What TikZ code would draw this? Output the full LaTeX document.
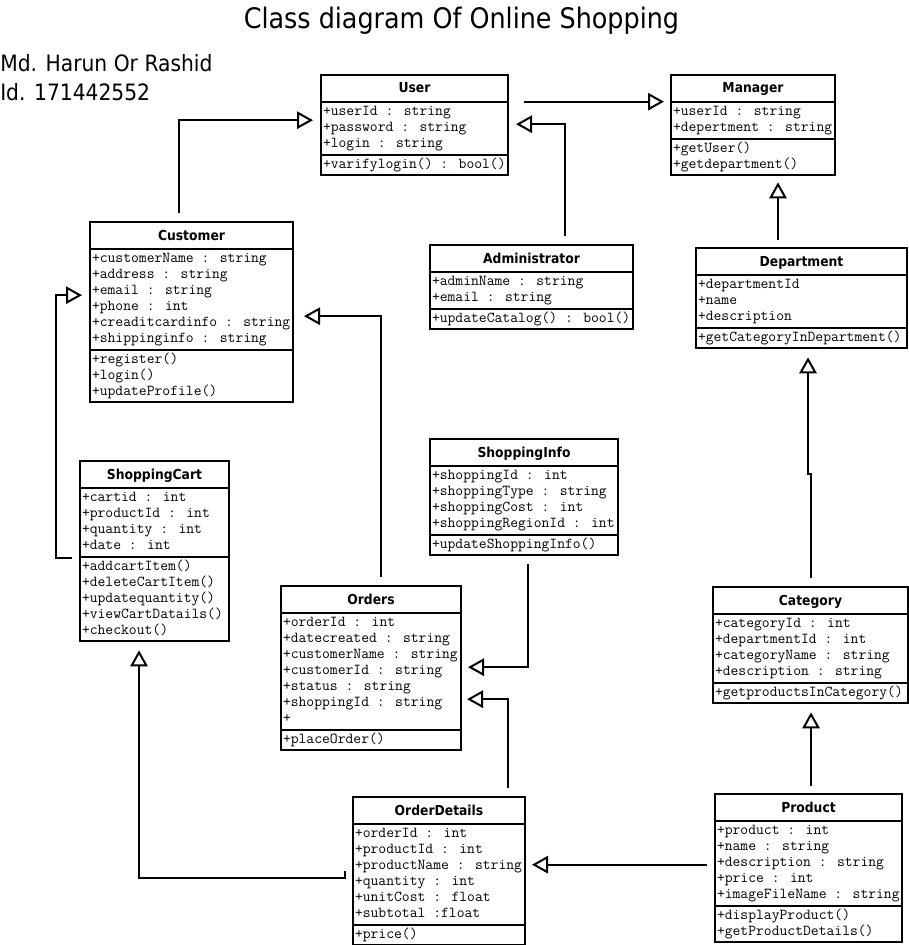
\documentclass[tikz,border=0pt]{standalone}
\usepackage{fontspec}
\setmainfont{DejaVu Sans Condensed}
\usepackage{tikz}
\usetikzlibrary{shapes,shapes.multipart,arrows.meta,calc}
\tikzset{
  classbox/.style = {rectangle split, rectangle split parts=3, rectangle split part align={center,left,left},
    draw=black, line width=1.5pt, inner xsep=1.5pt, inner ysep=1pt, anchor=north west,
    font=\fontsize{11.4}{12}\selectfont\ttfamily},
  boxw/.style = {minimum width=#1*0.75pt},
  inherit/.style = {line width=1.5pt, -{Triangle[open,length=12pt,width=13pt]}}
}
\newcommand\cname[1]{{\fontsize{10.3}{12}\selectfont\rmfamily\bfseries\rule[-5pt]{0pt}{16.75pt}#1}}
\newcommand\members[1]{\begin{tabular}{@{}l@{}}#1\end{tabular}}

\begin{document}
\begin{tikzpicture}[x=0.75pt,y=-0.75pt]
	\useasboundingbox (0,0) rectangle (908,945);
	\node [anchor=base, font=\fontsize{21.2}{24}\selectfont] (title) at (461.5,29) {Class diagram Of Online Shopping};
	\node [anchor=north west, inner sep=0pt, align=left, font=\fontsize{16.9}{21.75}\selectfont] (author) at (0,54) {Md. Harun Or Rashid\\Id. 171442552};

	\node [classbox, boxw=187] (user) at (320,74) {\cname{User}
		\nodepart{two}\members{+userId : string\\+password : string\\+login : string}
		\nodepart{three}\members{+varifylogin() : bool()}};
	\node [classbox, boxw=164] (manager) at (670,74) {\cname{Manager}
		\nodepart{two}\members{+userId : string\\+depertment : string}
		\nodepart{three}\members{+getUser()\\+getdepartment()}};
	\node [classbox, boxw=203] (customer) at (89,221) {\cname{Customer}
		\nodepart{two}\members{+customerName : string\\+address : string\\+email : string\\+phone : int\\+creaditcardinfo : string\\+shippinginfo : string}
		\nodepart{three}\members{+register()\\+login()\\+updateProfile()}};
	\node [classbox, boxw=203] (admin) at (429,244) {\cname{Administrator}
		\nodepart{two}\members{+adminName : string\\+email : string}
		\nodepart{three}\members{+updateCatalog() : bool()}};
	\node [classbox, boxw=211] (department) at (695,247) {\cname{Department}
		\nodepart{two}\members{+departmentId\\+name\\+description}
		\nodepart{three}\members{+getCategoryInDepartment()}};
	\node [classbox, boxw=149] (cart) at (79,460) {\cname{ShoppingCart}
		\nodepart{two}\members{+cartid : int\\+productId : int\\+quantity : int\\+date : int}
		\nodepart{three}\members{+addcartItem()\\+deleteCartItem()\\+updatequantity()\\+viewCartDatails()\\+checkout()}};
	\node [classbox, boxw=188] (shopinfo) at (429,438) {\cname{ShoppingInfo}
		\nodepart{two}\members{+shoppingId : int\\+shoppingType : string\\+shoppingCost : int\\+shoppingRegionId : int}
		\nodepart{three}\members{+updateShoppingInfo()}};
	\node [classbox, boxw=180] (orders) at (280,585) {\cname{Orders}
		\nodepart{two}\members{+orderId : int\\+datecreated : string\\+customerName : string\\+customerId : string\\+status : string\\+shoppingId : string\\+}
		\nodepart{three}\members{+placeOrder()}};
	\node [classbox, boxw=195] (category) at (712,586) {\cname{Category}
		\nodepart{two}\members{+categoryId : int\\+departmentId : int\\+categoryName : string\\+description : string}
		\nodepart{three}\members{+getproductsInCategory()}};
	\node [classbox, boxw=172] (odetails) at (352,796) {\cname{OrderDetails}
		\nodepart{two}\members{+orderId : int\\+productId : int\\+productName : string\\+quantity : int\\+unitCost : float\\+subtotal :float}
		\nodepart{three}\members{+price()}};
	\node [classbox, boxw=187] (product) at (714,793) {\cname{Product}
		\nodepart{two}\members{+product : int\\+name : string\\+description : string\\+price : int\\+imageFileName : string}
		\nodepart{three}\members{+displayProduct()\\+getProductDetails()}};

	\draw [inherit] ($(customer.north)+(-12.5,-8)$) |- ($(user.west)+(-7,-5)$);
	\draw [inherit, shorten >=4.5pt] ($(user.east)+(15,-23.5)$) coordinate (user_out) -- (user_out -| manager.west);
	\draw [inherit] ($(admin.north)+(33.5,-8)$) |- ($(user.east)+(7,-1)$);
	\draw [inherit, shorten >=4.5pt] ($(department.north)+(-23.5,-7)$) coordinate (dep_up) -- (dep_up |- manager.south);
	\draw [inherit, shorten >=6pt] ($(category.north)+(0.5,-8)$) -- ++(0,-104) -- ++(-3,0) coordinate (cat_jog) -- (cat_jog |- department.south);
	\draw [inherit, shorten >=6pt] ($(product.north)+(2.5,-7)$) coordinate (prod_up) -- (prod_up |- category.south);
	\draw [inherit] ($(orders.north)+(10,-8)$) |- ($(customer.east)+(10,4)$);
	\draw [inherit] ($(cart.west)+(-7,7)$) -- ++(-16,0) |- ($(customer.west)+(-7,-17)$);
	\draw [inherit] ($(shopinfo.south)+(4,8)$) |- ($(orders.east)+(6,-1)$);
	\draw [inherit] ($(odetails.north)+(69,-8)$) |- ($(orders.east)+(5,31)$);
	\draw [inherit] ($(odetails.west)+(-7,0)$) -- ++(0,7) -| ($(cart.south)+(-15.5,8)$);
	\draw [inherit, shorten >=4.5pt] ($(product.west)+(-7,-3.5)$) coordinate (prod_out) -- (prod_out -| odetails.east);
\end{tikzpicture}
\end{document}
